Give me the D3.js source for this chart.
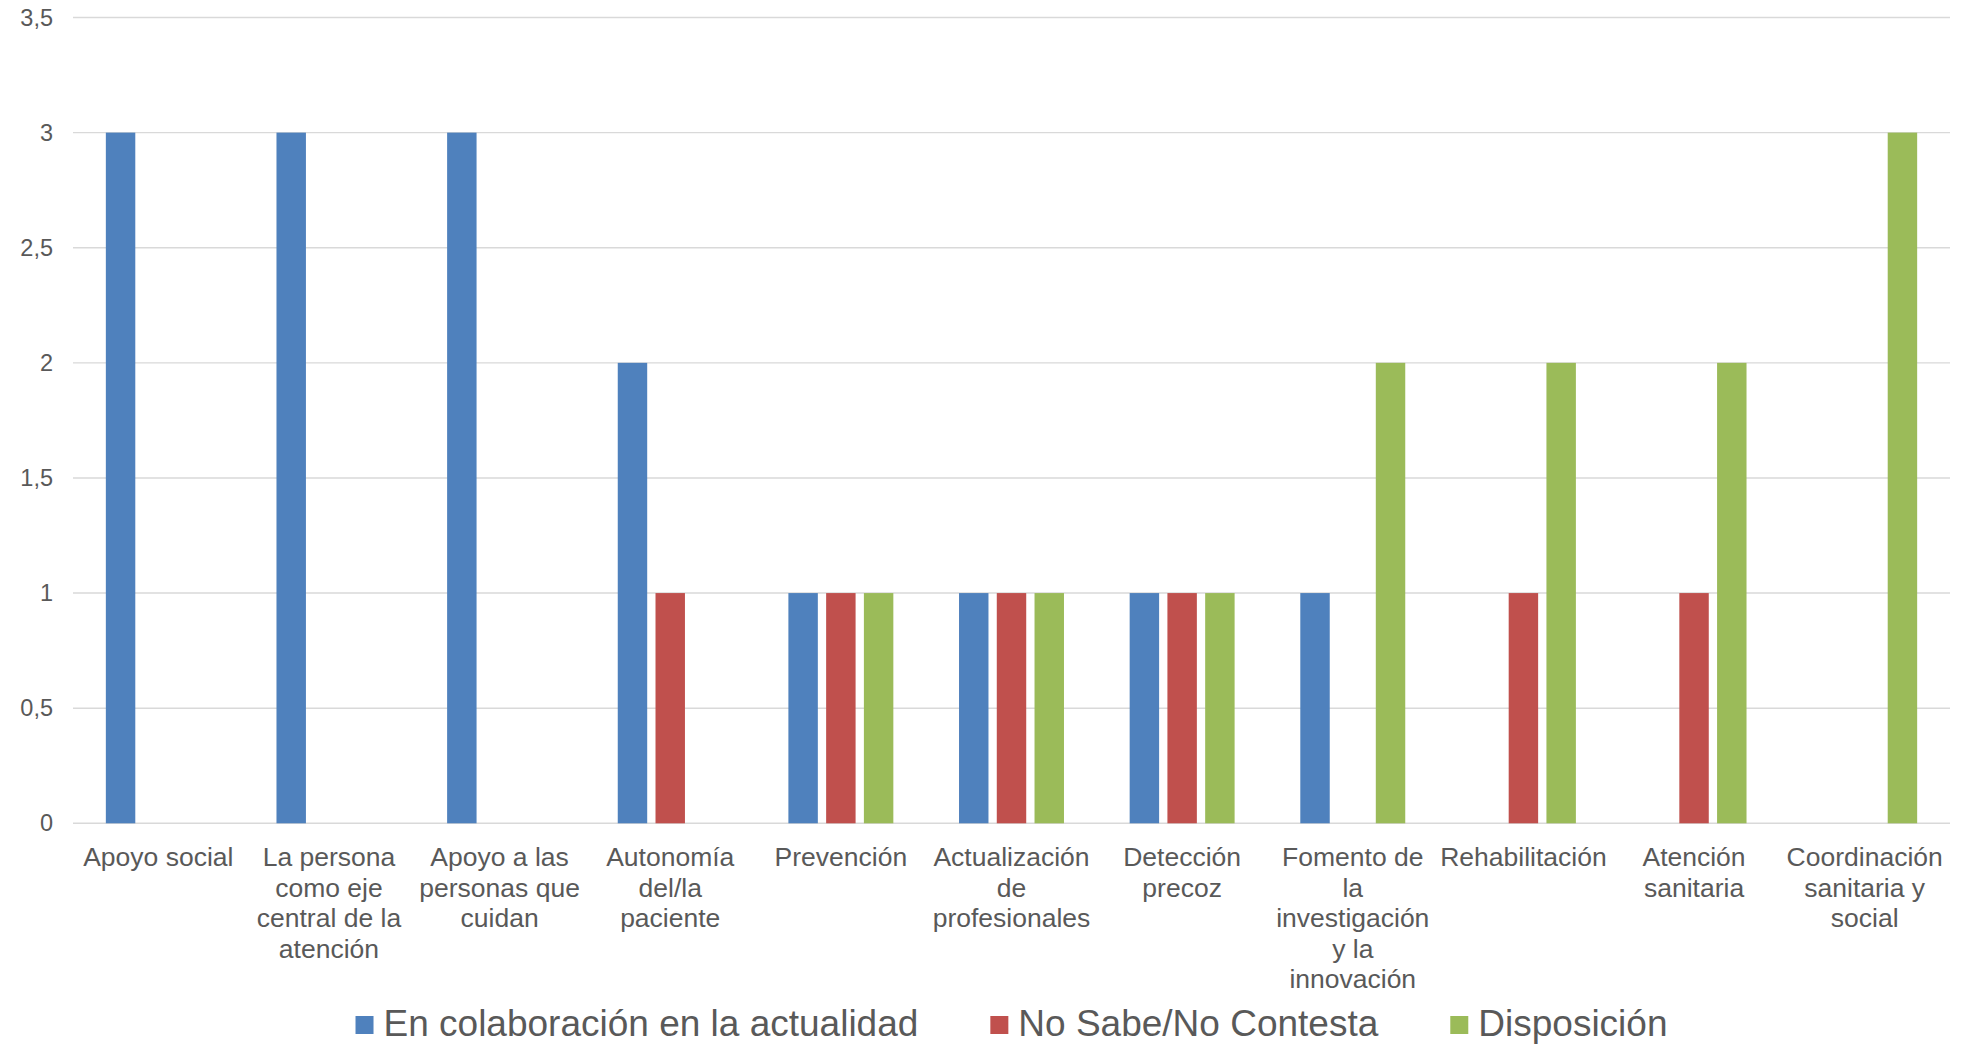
<!DOCTYPE html>
<html>
<head>
<meta charset="utf-8">
<script src="https://cdn.jsdelivr.net/npm/d3@7"></script>
<style>
  html, body { margin: 0; padding: 0; background: #ffffff; }
  svg { display: block; font-family: "Liberation Sans", Arial, sans-serif; }
</style>
</head>
<body>
<svg id="chart" width="1964" height="1045"></svg>
<script>
// Ámbitos de colaboración
const categories = [
  "Apoyo social",
  "La persona como eje central de la atención",
  "Apoyo a las personas que cuidan",
  "Autonomía del/la paciente",
  "Prevención",
  "Actualización de profesionales",
  "Detección precoz",
  "Fomento de la investigación y la innovación",
  "Rehabilitación",
  "Atención sanitaria",
  "Coordinación sanitaria y social"
];

const seriesNames = ["En colaboración en la actualidad", "No Sabe/No Contesta", "Disposición"];
const enColaboracion = [3, 3, 3, 2, 1, 1, 1, 1, 0, 0, 0];
const noSabe         = [0, 0, 0, 1, 1, 1, 1, 0, 1, 1, 0];
const disposicion    = [0, 0, 0, 0, 1, 1, 1, 2, 2, 2, 3];
const seriesColors = ["#4F81BD", "#C0504D", "#9BBB59"];

const yTicks = [0, 0.5, 1, 1.5, 2, 2.5, 3, 3.5];

const seriesValues = [enColaboracion, noSabe, disposicion];

const svg = d3.select("#chart");
const plotLeft = 73, plotRight = 1950, plotTop = 17.5, plotBottom = 823.3;

const x0 = d3.scaleBand().domain(d3.range(categories.length)).range([plotLeft, plotRight]).padding(0);
const x1 = d3.scaleBand().domain(d3.range(seriesNames.length))
  .range([0, x0.bandwidth()]).paddingInner(0.22).paddingOuter(0.87);
const y = d3.scaleLinear().domain([0, 3.5]).range([plotBottom, plotTop]);

const fmt = v => String(v).replace(".", ",");

// Gridlines
svg.append("g")
  .selectAll("line")
  .data(yTicks)
  .join("line")
  .attr("x1", plotLeft).attr("x2", plotRight)
  .attr("y1", d => y(d)).attr("y2", d => y(d))
  .attr("stroke", "#D9D9D9")
  .attr("stroke-width", 1.4);

// Y axis labels
const yAxis = svg.append("g")
  .attr("transform", `translate(${plotLeft - 20},0)`)
  .call(d3.axisLeft(y).tickValues(yTicks).tickFormat(fmt).tickSize(0).tickPadding(0));
yAxis.select(".domain").remove();
yAxis.selectAll("text")
  .attr("fill", "#595959")
  .style("font-size", "23.5px")
  .style("font-family", "'Liberation Sans', Arial, sans-serif");

// Bars
const groups = svg.append("g")
  .selectAll("g")
  .data(categories.map((c, i) => i))
  .join("g")
  .attr("transform", i => `translate(${x0(i)},0)`);

groups.selectAll("rect")
  .data(i => seriesValues.map((vals, s) => ({ s, v: vals[i] })))
  .join("rect")
  .attr("x", d => x1(d.s))
  .attr("width", x1.bandwidth())
  .attr("y", d => y(d.v))
  .attr("height", d => y(0) - y(d.v))
  .attr("fill", d => seriesColors[d.s]);

// Category labels, wrapped to fit each band
const labelSize = 26.5, lineH = 30.5, maxW = 165;
const catG = svg.append("g");
categories.forEach((c, i) => {
  const cxLabel = x0(i) + x0.bandwidth() / 2;
  const t = catG.append("text")
    .attr("text-anchor", "middle")
    .attr("fill", "#595959")
    .style("font-size", labelSize + "px")
    .attr("x", cxLabel)
    .attr("y", 866);
  const words = c.split(" ");
  let line = [];
  let tspan = t.append("tspan").attr("x", cxLabel).attr("dy", 0);
  words.forEach(w => {
    line.push(w);
    tspan.text(line.join(" "));
    if (tspan.node().getComputedTextLength() > maxW && line.length > 1) {
      line.pop();
      tspan.text(line.join(" "));
      line = [w];
      tspan = t.append("tspan").attr("x", cxLabel).attr("dy", lineH).text(w);
    }
  });
});

// Legend
const legend = svg.append("g");
const sq = 18, gapText = 10, gapItem = 72, legendBase = 1036;
let legendX = 0;
seriesNames.forEach((name, s) => {
  const g = legend.append("g");
  g.append("rect").attr("x", 0).attr("y", legendBase - 20).attr("width", sq).attr("height", sq)
    .attr("fill", seriesColors[s]);
  const txt = g.append("text").attr("x", sq + gapText).attr("y", legendBase)
    .attr("fill", "#595959").style("font-size", "37px").text(name);
  const w = sq + gapText + txt.node().getComputedTextLength();
  g.attr("transform", `translate(${legendX},0)`);
  legendX += w + gapItem;
});
const totalW = legendX - gapItem;
legend.attr("transform", `translate(${(plotLeft + plotRight) / 2 - totalW / 2},0)`);
</script>
</body>
</html>
